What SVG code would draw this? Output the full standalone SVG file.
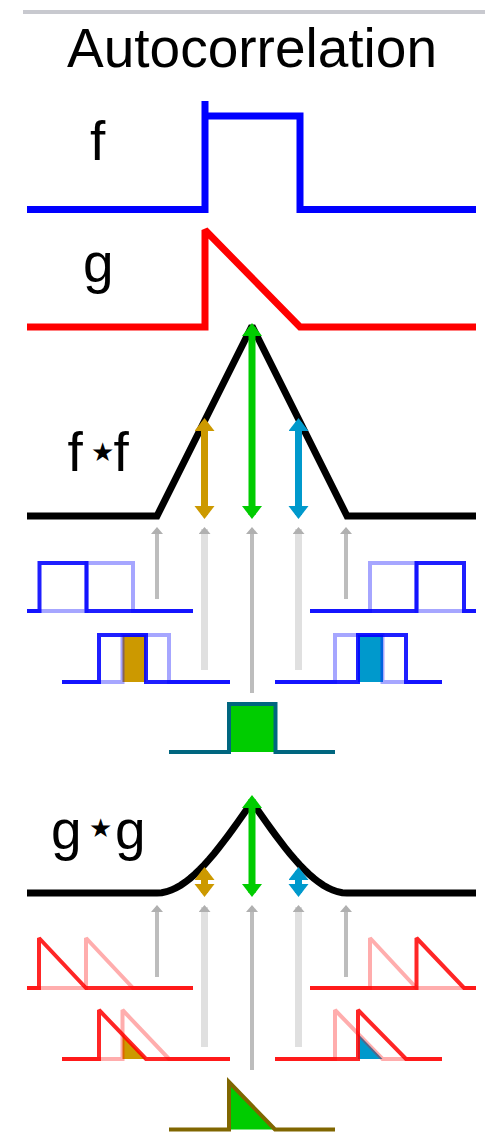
<svg xmlns="http://www.w3.org/2000/svg" width="485" height="1144" viewBox="0 0 485 1144">
<style>
text{font-family:"Liberation Sans",Arial,sans-serif;font-size:55px;fill:#000}
.star{font-family:"DejaVu Sans",sans-serif;font-size:26px}
.big{fill:none;stroke-width:7;stroke-miterlimit:2}
.sm{fill:none;stroke-width:4;stroke-miterlimit:2}
.sB{stroke:#0000ff;stroke-opacity:.88}
.lB{stroke:#0000ff;stroke-opacity:.35}
.sR{stroke:#ff0000;stroke-opacity:.85}
.lR{stroke:#ff0000;stroke-opacity:.32}
.ao{stroke:#cc9900;stroke-width:7;marker-start:url(#hO);marker-end:url(#hO)}
.ag{stroke:#00cc00;stroke-width:7;marker-start:url(#hG);marker-end:url(#hG)}
.ab{stroke:#0099cc;stroke-width:7;marker-start:url(#hB);marker-end:url(#hB)}
.gd{stroke:#bdbdbd;stroke-width:4;marker-start:url(#cap)}
.gl{stroke:#e0e0e0;stroke-width:7;marker-start:url(#cap)}
</style>
<defs>
<marker id="hO" markerUnits="userSpaceOnUse" markerWidth="14" markerHeight="22" refX="9" refY="10" orient="auto-start-reverse"><path d="M0,0L13,10L0,20Z" fill="#cc9900"/></marker>
<marker id="hG" markerUnits="userSpaceOnUse" markerWidth="14" markerHeight="22" refX="9" refY="10" orient="auto-start-reverse"><path d="M0,0L13,10L0,20Z" fill="#00cc00"/></marker>
<marker id="hB" markerUnits="userSpaceOnUse" markerWidth="14" markerHeight="22" refX="9" refY="10" orient="auto-start-reverse"><path d="M0,0L13,10L0,20Z" fill="#0099cc"/></marker>
<marker id="cap" markerUnits="userSpaceOnUse" markerWidth="8" markerHeight="12" refX="5" refY="6" orient="auto-start-reverse"><path d="M0,0L7,6L0,12Z" fill="#b0b0b0"/></marker>
</defs>

<g id="header">
<line x1="23" y1="12" x2="485" y2="12" stroke="#c8c9cf" stroke-width="4"/>
<text x="252" y="67" text-anchor="middle">Autocorrelation</text>
</g>

<g id="plot-f">
<text x="90" y="160">f</text>
<path class="big" stroke="#0000ff" d="M27,209.5H205V101M205,116H300V209.5H476"/>
</g>

<g id="plot-g">
<text x="83" y="282">g</text>
<path class="big" stroke="#ff0000" d="M27,327H205V230L300,327H476"/>
</g>

<g id="plot-ff">
<text y="471"><tspan x="67.5">f</tspan><tspan class="star" x="91" y="461">★</tspan><tspan x="113.5" y="471">f</tspan></text>
<path class="big" stroke="#000" d="M27,516H157L252,326L347,516H476"/>
</g>

<g id="shifts-f">
<path class="sm sB" d="M27,611H39.5V563H86.5V611H193"/>
<path class="sm lB" d="M27,611H86.5V563H133V611H193"/>
<path class="sm lB" d="M310,611H370V563H416.5V611H476"/>
<path class="sm sB" d="M310,611H416.5V563H464V611H476"/>
<rect x="122.5" y="635" width="23.5" height="47" fill="#cc9900"/>
<path class="sm sB" d="M62,682H99V635H146V682H230"/>
<path class="sm lB" d="M62,682H122.5V635H169V682H230"/>
<rect x="358" y="635" width="25" height="47" fill="#0099cc"/>
<path class="sm lB" d="M275,682H335V635H382.5V682H442"/>
<path class="sm sB" d="M275,682H358V635H406V682H442"/>
<path stroke-width="4" stroke="#00667f" fill="#00cc00" d="M169,752H229V704H275.5V752H335"/>
</g>

<g id="plot-gg">
<text y="849"><tspan x="51">g</tspan><tspan class="star" x="89" y="837">★</tspan><tspan x="115" y="849">g</tspan></text>
<polyline class="big" stroke="#000" points="27,893 157,893 161.75,892.7 166.5,891.7 171.25,890.1 176,887.9 180.75,885.2 185.5,881.9 190.25,878.2 195,874.1 199.75,869.5 204.5,864.6 209.25,859.3 214,853.7 218.75,847.8 223.5,841.7 228.25,835.4 233,828.9 237.75,822.3 242.5,815.6 247.25,808.8 252,802 256.75,808.8 261.5,815.6 266.25,822.3 271,828.9 275.75,835.4 280.5,841.7 285.25,847.8 290,853.7 294.75,859.3 299.5,864.6 304.25,869.5 309,874.1 313.75,878.2 318.5,881.9 323.25,885.2 328,887.9 332.75,890.1 337.5,891.7 342.25,892.7 347,893 476,893"/>
</g>

<g id="shifts-g">
<path class="sm sR" d="M27,988H39V938L86,988H193"/>
<path class="sm lR" d="M27,988H86V938L133,988H193"/>
<path class="sm lR" d="M310,988H370V938L416.5,988H476"/>
<path class="sm sR" d="M310,988H416.5V938L464,988H476"/>
<polygon points="122.5,1034.5 146,1059 122.5,1059" fill="#cc9900"/>
<path class="sm sR" d="M62,1059H99V1010L146,1059H230"/>
<path class="sm lR" d="M62,1059H122.5V1010L169,1059H230"/>
<polygon points="358,1033.7 382.5,1059 358,1059" fill="#0099cc"/>
<path class="sm lR" d="M275,1059H335V1010L382.5,1059H442"/>
<path class="sm sR" d="M275,1059H358V1010L406,1059H442"/>
<path stroke-width="4" stroke="#806600" fill="#00cc00" d="M169,1129.5H229V1082L275,1129.5H335"/>
</g>

<g id="connectors">
<line class="gd" x1="157" y1="529" x2="157" y2="599"/>
<line class="gl" x1="204.5" y1="529" x2="204.5" y2="670"/>
<line class="gd" x1="252" y1="529" x2="252" y2="693"/>
<line class="gl" x1="298.5" y1="529" x2="298.5" y2="670"/>
<line class="gd" x1="346" y1="529" x2="346" y2="599"/>
<line class="gd" x1="157" y1="907" x2="157" y2="977"/>
<line class="gl" x1="204.5" y1="907" x2="204.5" y2="1047"/>
<line class="gd" x1="252" y1="907" x2="252" y2="1070"/>
<line class="gl" x1="298.5" y1="907" x2="298.5" y2="1047"/>
<line class="gd" x1="346" y1="907" x2="346" y2="977"/>
<line class="ao" x1="204.5" y1="422" x2="204.5" y2="515"/>
<line class="ag" x1="252" y1="327" x2="252" y2="515"/>
<line class="ab" x1="298.5" y1="422" x2="298.5" y2="515"/>
<line class="ao" x1="204.5" y1="871" x2="204.5" y2="893"/>
<line class="ag" x1="252" y1="799" x2="252" y2="893"/>
<line class="ab" x1="298.5" y1="871" x2="298.5" y2="893"/>
</g>
</svg>
